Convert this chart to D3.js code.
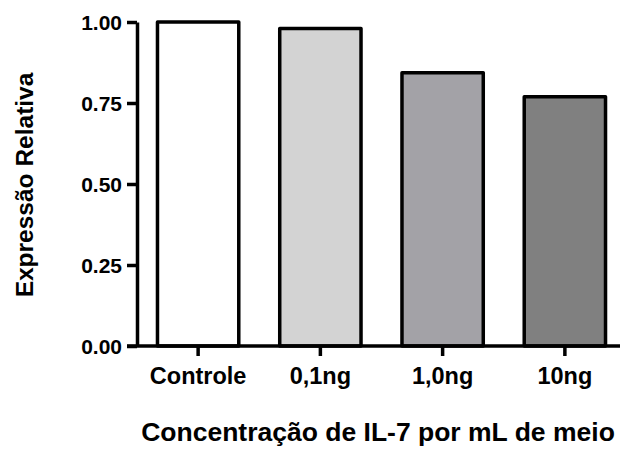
<!DOCTYPE html>
<html>
<head>
<meta charset="utf-8">
<script src="https://cdn.jsdelivr.net/npm/d3@7/dist/d3.min.js"></script>
<style>
  html, body { margin: 0; padding: 0; background: #fff; }
  svg { display: block; font-family: "Liberation Sans", Arial, Helvetica, sans-serif; font-weight: bold; }
</style>
</head>
<body>
<svg id="chart" width="620" height="449"></svg>
<script>
const categories = ["Controle", "0,1ng", "1,0ng", "10ng"];
const values = [1.00, 0.98, 0.843, 0.769];
const fills = ["#ffffff", "#d3d3d3", "#a3a2a7", "#808080"];
const yTicks = [0, 0.25, 0.5, 0.75, 1.0];
const yTitle = "Expressão Relativa";
const xTitle = "Concentração de IL-7 por mL de meio";

const svg = d3.select("#chart");
const plotLeft = 137, plotRight = 626, plotTop = 22, plotBottom = 346;

const x = d3.scaleBand()
  .domain(categories)
  .range([plotLeft, plotRight])
  .paddingInner(0.335)
  .paddingOuter(0.1675);

const y = d3.scaleLinear().domain([0, 1]).range([plotBottom, plotTop]);

// bars
svg.append("g").selectAll("rect")
  .data(categories)
  .join("rect")
  .attr("x", d => x(d))
  .attr("y", (d, i) => y(values[i]))
  .attr("width", x.bandwidth())
  .attr("height", (d, i) => y(0) - y(values[i]))
  .attr("fill", (d, i) => fills[i])
  .attr("stroke", "#000")
  .attr("stroke-width", 3.5)
  .attr("stroke-linejoin", "round");

// y axis
const yAxis = svg.append("g")
  .attr("transform", `translate(${plotLeft},0)`)
  .call(d3.axisLeft(y).tickValues(yTicks).tickFormat(d3.format(".2f")).tickSize(10).tickSizeOuter(0).tickPadding(5));

// x axis
const xAxis = svg.append("g")
  .attr("transform", `translate(0,${plotBottom})`)
  .call(d3.axisBottom(x).tickSize(10).tickSizeOuter(0).tickPadding(11));

[yAxis, xAxis].forEach(g => {
  g.select(".domain").attr("stroke", "#000").attr("stroke-width", 3.5);
  g.selectAll(".tick line").attr("stroke", "#000").attr("stroke-width", 3.5);
  g.selectAll(".tick text").attr("fill", "#000")
    .style("font-weight", "bold")
    .style("font-family", "'Liberation Sans', Arial, sans-serif");
});
yAxis.selectAll(".tick text").style("font-size", "21px").attr("dy", "0.34em");
xAxis.selectAll(".tick text").style("font-size", "23.5px");
// extend the x baseline to meet the y axis
xAxis.select(".domain").attr("d", `M${plotLeft - 10},0H${plotRight}`);

// axis titles
svg.append("text")
  .attr("transform", `translate(33,${(plotTop + plotBottom) / 2 + 1}) rotate(-90)`)
  .attr("text-anchor", "middle")
  .style("font-size", "24.5px")
  .text(yTitle);

svg.append("text")
  .attr("x", 378)
  .attr("y", 441)
  .attr("text-anchor", "middle")
  .style("font-size", "26.5px")
  .text(xTitle);
</script>
</body>
</html>
